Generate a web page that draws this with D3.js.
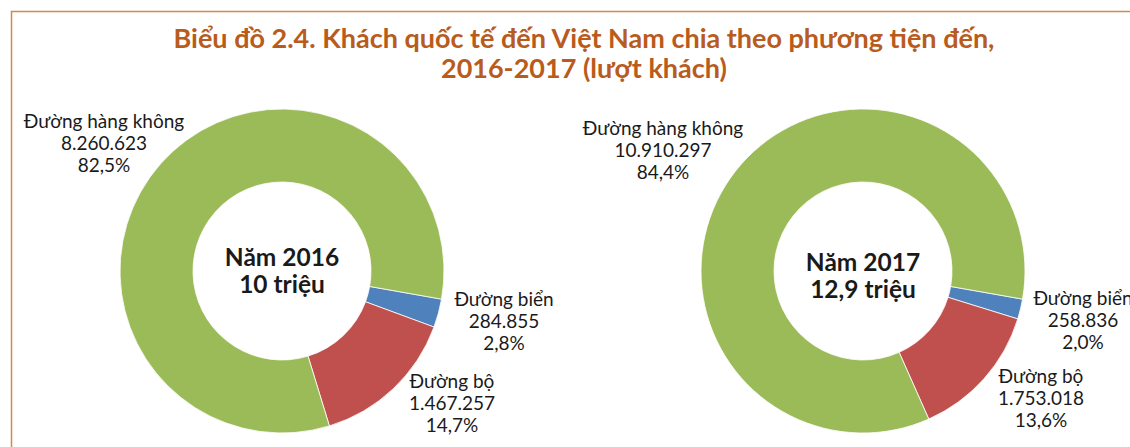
<!DOCTYPE html>
<html>
<head>
<meta charset="utf-8">
<script src="https://cdn.jsdelivr.net/npm/d3@7"></script>
<style>
  body { margin: 0; background: #fff; }
  svg text { font-family: Lato, "Open Sans", sans-serif; }
</style>
</head>
<body>
<div id="chart"></div>
<script>
// Dữ liệu
const TITLE_LINES = ['Biểu đồ 2.4. Khách quốc tế đến Việt Nam chia theo phương tiện đến,', '2016-2017 (lượt khách)'];
const CATEGORIES = ['Đường biển', 'Đường bộ', 'Đường hàng không'];
const YEARS = ['Năm 2016', 'Năm 2017'];
const TOTALS = ['10 triệu', '12,9 triệu'];
const VALUES_2016 = [284855, 1467257, 8260623];
const VALUES_2017 = [258836, 1753018, 10910297];
const VALUE_LABELS_2016 = ['284.855', '1.467.257', '8.260.623'];
const VALUE_LABELS_2017 = ['258.836', '1.753.018', '10.910.297'];
const PCT_LABELS_2016 = ['2,8%', '14,7%', '82,5%'];
const PCT_LABELS_2017 = ['2,0%', '13,6%', '84,4%'];

// Colores
const COLORS = ['#4F81BD', '#C0504D', '#9BBB59'];
const COLOR_TITLE = '#B95B1C', COLOR_BORDER = '#D5874D', COLOR_TEXT = '#1a1a1a';

const width = 1130, height = 447;

const svg = d3.select('#chart').append('svg')
    .attr('width', width)
    .attr('height', height);

// Khung
svg.append('path')
    .attr('d', 'M11.5,' + height + 'V11.5H' + width)
    .attr('fill', 'none')
    .attr('stroke', COLOR_BORDER)
    .attr('stroke-width', 1.5);

// Tiêu đề
svg.append('g').selectAll('text')
    .data(TITLE_LINES)
    .enter().append('text')
    .attr('x', 584)
    .attr('y', function(d, i) { return 48 + i * 30; })
    .attr('text-anchor', 'middle')
    .attr('fill', COLOR_TITLE)
    .style('font-size', '27px')
    .style('font-weight', 'bold')
    .text(function(d) { return d; });

const outerR = 162, innerR = 89;
const startA = 100 * Math.PI / 180;

const pie = d3.pie().sort(null).value(function(d) { return d; })
    .startAngle(startA).endAngle(startA + 2 * Math.PI);
const arc = d3.arc().innerRadius(innerR).outerRadius(outerR);

// vị trí nhãn (tâm dòng giữa) so với tâm vòng
const charts = [
    { cx: 282, cy: 271, values: VALUES_2016, vals: VALUE_LABELS_2016, pcts: PCT_LABELS_2016,
      centerDy: -5, labelPos: [[222, 50], [170, 132], [-178, -128]] },
    { cx: 863, cy: 271, values: VALUES_2017, vals: VALUE_LABELS_2017, pcts: PCT_LABELS_2017,
      centerDy: 0, labelPos: [[220, 49], [178, 127], [-200, -121]] }
];

charts.forEach(function(c, k) {
    const g = svg.append('g').attr('transform', 'translate(' + c.cx + ',' + c.cy + ')');

    g.selectAll('path')
        .data(pie(c.values))
        .enter().append('path')
        .attr('d', arc)
        .attr('fill', function(d, i) { return COLORS[i]; })
        .attr('stroke', '#fff')
        .attr('stroke-width', 0.8);

    // nhãn giữa
    g.append('text')
        .attr('text-anchor', 'middle')
        .attr('fill', COLOR_TEXT)
        .style('font-size', '24.5px')
        .style('font-weight', 'bold')
        .selectAll('tspan')
        .data([YEARS[k], TOTALS[k]])
        .enter().append('tspan')
        .attr('x', 0)
        .attr('y', function(d, i) { return c.centerDy + i * 27; })
        .text(function(d) { return d; });

    // nhãn dữ liệu
    CATEGORIES.forEach(function(cat, i) {
        g.append('text')
            .attr('text-anchor', 'middle')
            .attr('fill', COLOR_TEXT)
            .style('font-size', '19px')
            .selectAll('tspan')
            .data([cat, c.vals[i], c.pcts[i]])
            .enter().append('tspan')
            .attr('x', c.labelPos[i][0])
            .attr('y', function(d, j) { return c.labelPos[i][1] + (j - 1) * 22 + 7; })
            .text(function(d) { return d; });
    });
});
</script>
</body>
</html>
